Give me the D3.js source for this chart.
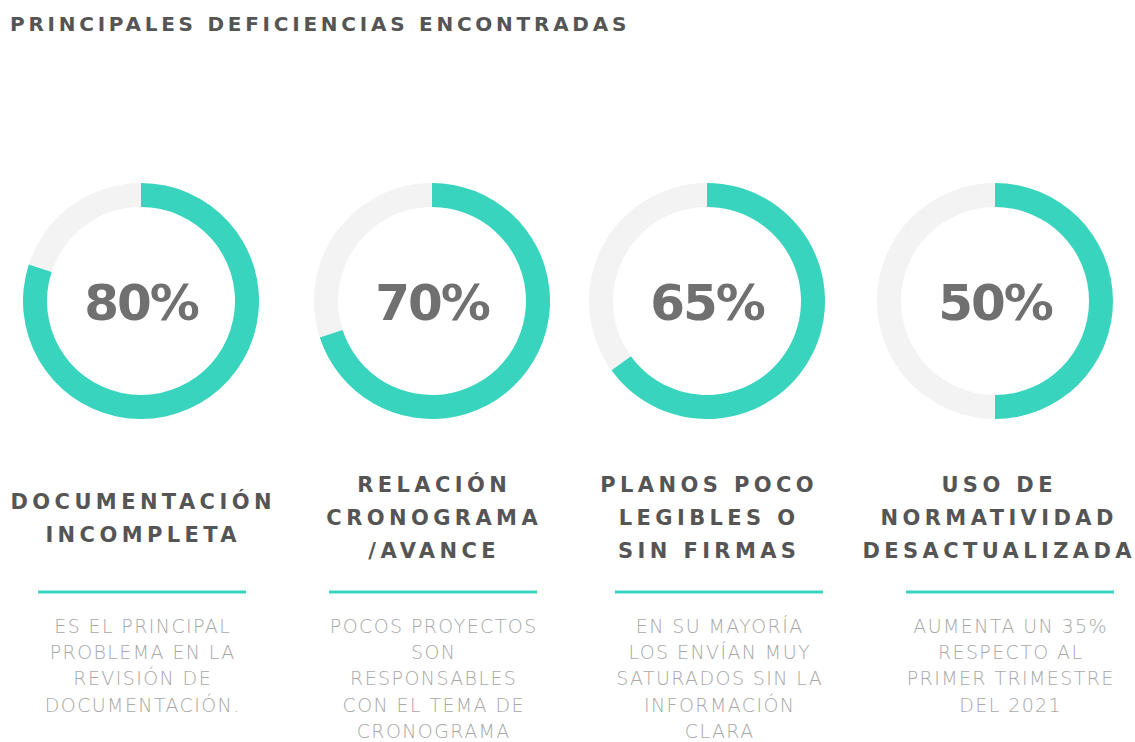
<!DOCTYPE html>
<html>
<head>
<meta charset="utf-8">
<script src="https://cdn.jsdelivr.net/npm/d3@7"></script>
<style>
  body { margin: 0; background: #fff; }
  svg { display: block; }
</style>
</head>
<body>
<div id="chart"></div>
<script>
// data
const title = "PRINCIPALES DEFICIENCIAS ENCONTRADAS";
const values = [80, 70, 65, 50];
const headings = [
  ["DOCUMENTACIÓN", "INCOMPLETA"],
  ["RELACIÓN", "CRONOGRAMA", "/AVANCE"],
  ["PLANOS POCO", "LEGIBLES O", "SIN FIRMAS"],
  ["USO DE", "NORMATIVIDAD", "DESACTUALIZADA"]
];
const descriptions = [
  ["ES EL PRINCIPAL", "PROBLEMA EN LA", "REVISIÓN DE", "DOCUMENTACIÓN."],
  ["POCOS PROYECTOS", "SON", "RESPONSABLES", "CON EL TEMA DE", "CRONOGRAMA"],
  ["EN SU MAYORÍA", "LOS ENVÍAN MUY", "SATURADOS SIN LA", "INFORMACIÓN", "CLARA"],
  ["AUMENTA UN 35%", "RESPECTO AL", "PRIMER TRIMESTRE", "DEL 2021"]
];

// layout
const width = 1135, height = 742;
const donutX = [141, 432, 707, 995];
const textX = [142, 433, 719, 1010];
const headX = [141, 432, 707, 997];
const cy = 301, outerR = 118, ring = 24;
const teal = "#38d4bd", track = "#f3f3f3";
const headLS = 4.4, descLS = 1.4;

const svg = d3.select("#chart").append("svg")
  .attr("width", width).attr("height", height);

svg.append("text")
  .attr("x", 10).attr("y", 31)
  .attr("font-family", "'DejaVu Sans', sans-serif")
  .attr("font-weight", "bold")
  .attr("font-size", 20)
  .attr("letter-spacing", 3.75)
  .attr("fill", "#555")
  .text(title);

const angle = d3.scaleLinear().domain([0, 100]).range([0, 2 * Math.PI]);
const arc = d3.arc().innerRadius(outerR - ring).outerRadius(outerR);

const cols = svg.selectAll("g.col")
  .data(values)
  .join("g")
  .attr("class", "col");

cols.append("path")
  .attr("transform", (d, i) => `translate(${donutX[i]},${cy})`)
  .attr("fill", track)
  .attr("d", d => arc({ startAngle: angle(d), endAngle: angle(100) }));

cols.append("path")
  .attr("transform", (d, i) => `translate(${donutX[i]},${cy})`)
  .attr("fill", teal)
  .attr("d", d => arc({ startAngle: 0, endAngle: angle(d) }));

cols.append("text")
  .attr("x", (d, i) => donutX[i])
  .attr("y", cy + 19)
  .attr("text-anchor", "middle")
  .attr("font-family", "'DejaVu Sans', sans-serif")
  .attr("font-weight", "bold")
  .attr("font-size", 50)
  .attr("letter-spacing", -2)
  .attr("fill", "#707070")
  .text(d => d + "%");

// headings, vertically centred round y=517
const headLine = 33;
cols.append("text")
  .attr("text-anchor", "middle")
  .attr("font-family", "'DejaVu Sans', sans-serif")
  .attr("font-weight", "bold")
  .attr("font-size", 21)
  .attr("letter-spacing", headLS)
  .attr("fill", "#555")
  .each(function (d, i) {
    const lines = headings[i];
    d3.select(this).selectAll("tspan")
      .data(lines)
      .join("tspan")
      .attr("x", headX[i] + headLS / 2)
      .attr("y", (l, j) => 517 + (j - (lines.length - 1) / 2) * headLine + 8)
      .text(l => l);
  });

cols.append("line")
  .attr("x1", (d, i) => textX[i] - 104)
  .attr("x2", (d, i) => textX[i] + 104)
  .attr("y1", 592).attr("y2", 592)
  .attr("stroke", teal)
  .attr("stroke-width", 3);

cols.append("text")
  .attr("text-anchor", "middle")
  .attr("font-family", "'DejaVu Sans', sans-serif")
  .attr("font-weight", 200)
  .attr("font-size", 19)
  .attr("letter-spacing", descLS)
  .attr("fill", "#a8a8a8")
  .each(function (d, i) {
    d3.select(this).selectAll("tspan")
      .data(descriptions[i])
      .join("tspan")
      .attr("x", textX[i] + descLS / 2)
      .attr("y", (l, j) => 633 + j * 26.2)
      .text(l => l);
  });
</script>
</body>
</html>
